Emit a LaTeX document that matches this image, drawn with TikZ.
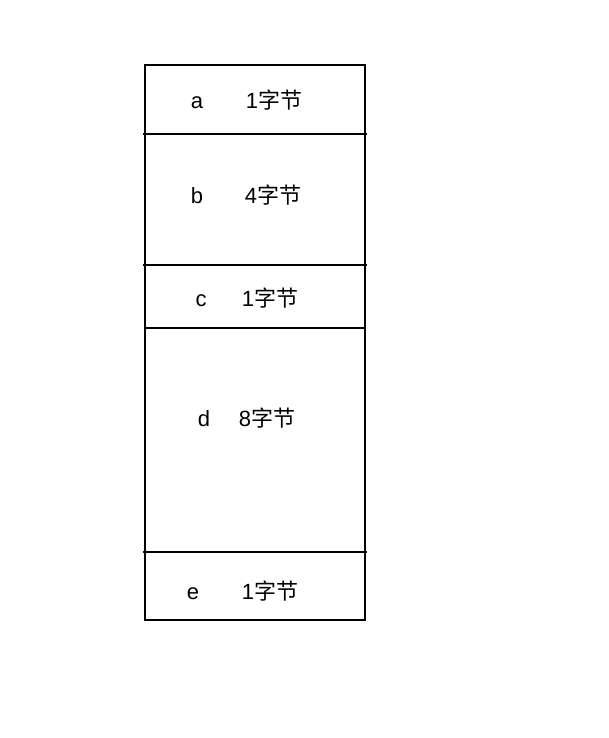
\documentclass[tikz,border=0pt]{standalone}
\usepackage{fontspec}
\setmainfont{Liberation Sans}
\newfontfamily\cjk{Noto Sans CJK SC}
\usepackage{tikz}

\begin{document}
\begin{tikzpicture}[x=1pt,y=-1pt,line width=1.5pt,
   lbl/.style={font=\fontsize{22}{26}\selectfont, inner sep=0pt, anchor=base}]
   \useasboundingbox (0,0) rectangle (608,738);
   \draw (145,65) rectangle (365,620);
   \draw (143,134) -- (367,134);
   \draw (143,265) -- (367,265);
   \draw (145,328) -- (365,328);
   \draw (143,552) -- (367,552);

   \node(NA)[lbl] at (197,109) {a};
   \node(SA)[lbl] at (274,109) {1{\cjk 字节}};

   \node(NB)[lbl] at (197,203) {b};
   \node(SB)[lbl] at (273,203) {4{\cjk 字节}};

   \node(NC)[lbl] at (201,306) {c};
   \node(SC)[lbl] at (270,306) {1{\cjk 字节}};

   \node(ND)[lbl] at (204,426) {d};
   \node(SD)[lbl] at (267,426) {8{\cjk 字节}};

   \node(NE)[lbl] at (193,599) {e};
   \node(SE)[lbl] at (270,599) {1{\cjk 字节}};
\end{tikzpicture}
\end{document}
